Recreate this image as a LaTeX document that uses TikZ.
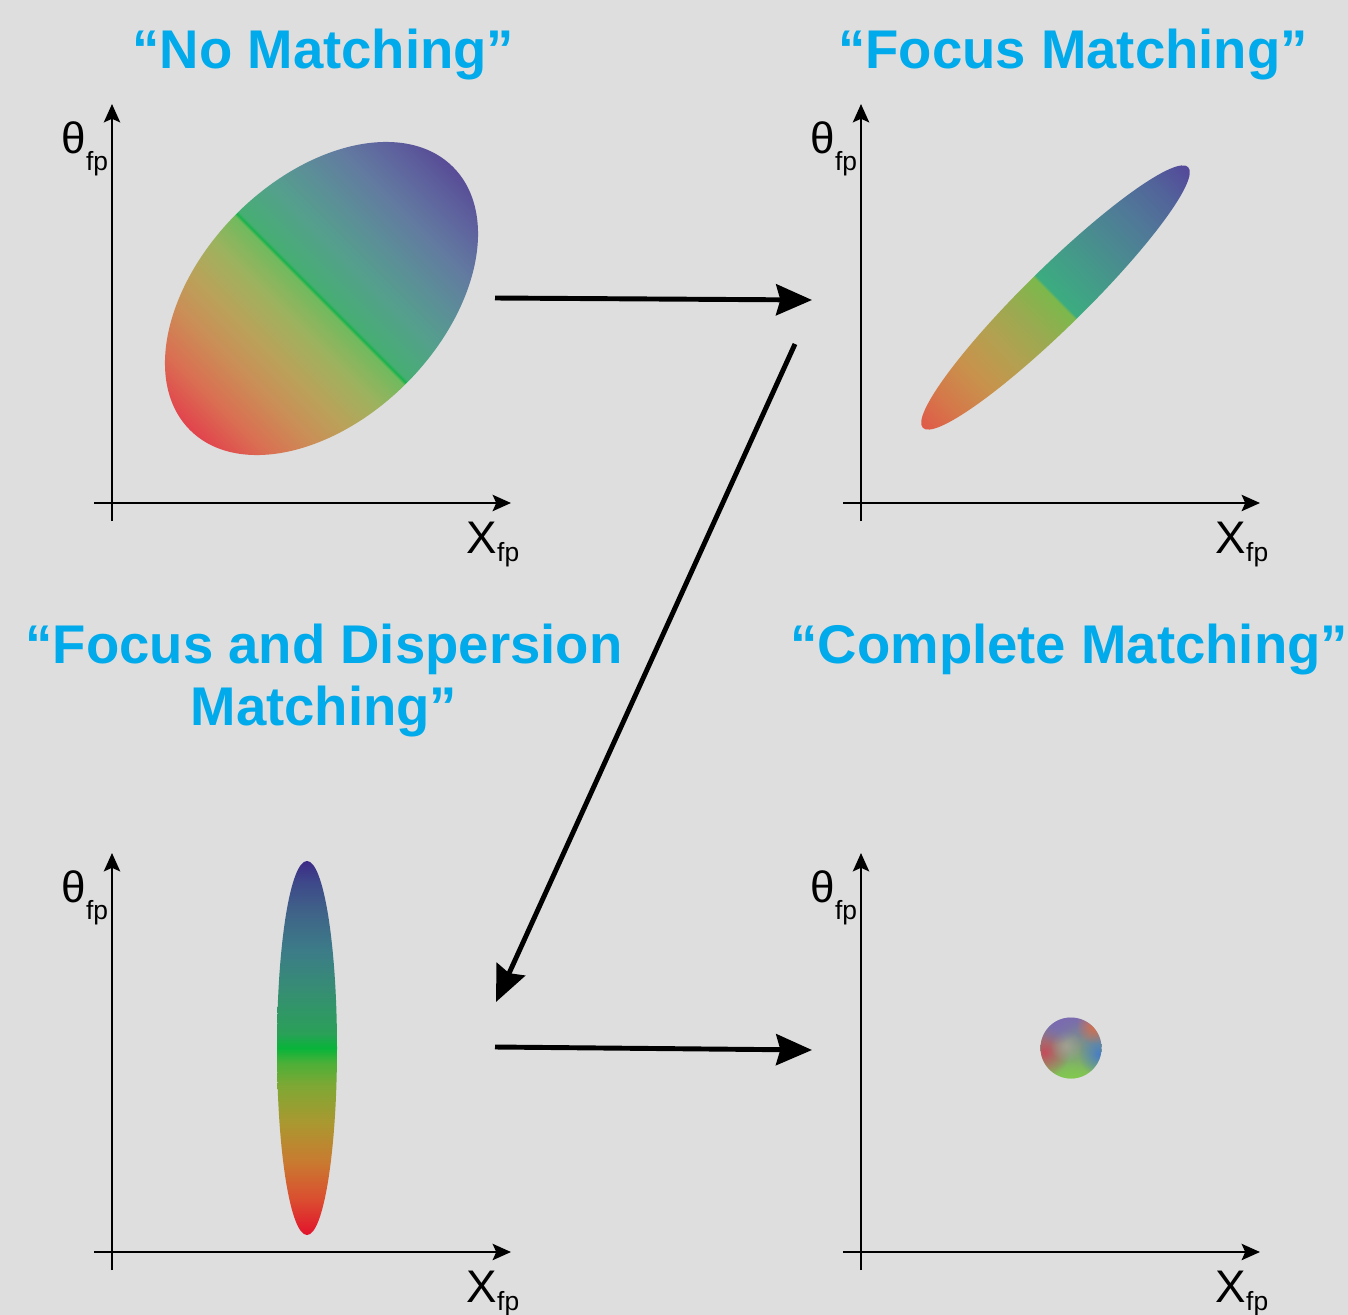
\documentclass[tikz,border=0pt]{standalone}
\usepackage{fontspec}
\setmainfont{Liberation Sans}
\usetikzlibrary{
	positioning,
	arrows.meta,
	fadings
}
\definecolor{PanelGray}{RGB}{222,222,222}
\definecolor{TitleCyan}{RGB}{0,170,235}
% no matching
\definecolor{NmA}{RGB}{226,67,77}
\definecolor{NmB}{RGB}{218,110,82}
\definecolor{NmC}{RGB}{204,140,86}
\definecolor{NmD}{RGB}{186,162,90}
\definecolor{NmE}{RGB}{158,178,94}
\definecolor{NmF}{RGB}{112,186,94}
\definecolor{NmG}{RGB}{26,178,76}
\definecolor{NmH}{RGB}{70,174,114}
\definecolor{NmI}{RGB}{84,160,140}
\definecolor{NmJ}{RGB}{92,142,152}
\definecolor{NmK}{RGB}{98,122,160}
\definecolor{NmL}{RGB}{94,98,158}
\definecolor{NmM}{RGB}{88,76,150}
% focus matching
\definecolor{FmA}{RGB}{224,90,72}
\definecolor{FmB}{RGB}{212,122,74}
\definecolor{FmC}{RGB}{200,146,76}
\definecolor{FmD}{RGB}{180,160,80}
\definecolor{FmE}{RGB}{154,170,80}
\definecolor{FmF}{RGB}{124,184,76}
\definecolor{FmG}{RGB}{60,172,128}
\definecolor{FmH}{RGB}{67,156,136}
\definecolor{FmI}{RGB}{74,138,144}
\definecolor{FmJ}{RGB}{80,120,152}
\definecolor{FmK}{RGB}{82,100,154}
\definecolor{FmL}{RGB}{84,72,154}
% focus and dispersion matching
\definecolor{FdA}{RGB}{226,19,44}
\definecolor{FdB}{RGB}{218,80,48}
\definecolor{FdC}{RGB}{200,124,48}
\definecolor{FdD}{RGB}{170,152,48}
\definecolor{FdE}{RGB}{126,168,52}
\definecolor{FdF}{RGB}{76,176,56}
\definecolor{FdG}{RGB}{8,180,58}
\definecolor{FdH}{RGB}{42,160,88}
\definecolor{FdI}{RGB}{53,144,112}
\definecolor{FdJ}{RGB}{60,124,136}
\definecolor{FdK}{RGB}{63,100,136}
\definecolor{FdL}{RGB}{62,74,138}
\definecolor{FdM}{RGB}{60,42,134}
% complete matching
\definecolor{CmPurple}{RGB}{122,106,176}
\definecolor{CmGreen}{RGB}{130,200,80}
\definecolor{CmRed}{RGB}{196,76,92}
\definecolor{CmBlue}{RGB}{70,124,200}
\definecolor{CmOrange}{RGB}{216,112,72}
\definecolor{CmGrey}{RGB}{168,166,150}

\pgfdeclarehorizontalshading{NoMatchShade}{100bp}{
	color(0bp)=(NmA); color(25bp)=(NmA); color(30bp)=(NmB);
	color(35bp)=(NmC); color(40bp)=(NmD); color(45bp)=(NmE);
	color(49.6bp)=(NmF); color(50bp)=(NmG); color(50.4bp)=(NmH);
	color(56bp)=(NmI); color(61bp)=(NmJ); color(66bp)=(NmK);
	color(71bp)=(NmL); color(75bp)=(NmM); color(100bp)=(NmM)}
\pgfdeclarehorizontalshading{FocusShade}{100bp}{
	color(0bp)=(FmA); color(25bp)=(FmA); color(30bp)=(FmB);
	color(35bp)=(FmC); color(40bp)=(FmD); color(45bp)=(FmE);
	color(49.8bp)=(FmF); color(50.2bp)=(FmG); color(55bp)=(FmH);
	color(60bp)=(FmI); color(65bp)=(FmJ); color(70bp)=(FmK);
	color(75bp)=(FmL); color(100bp)=(FmL)}
\pgfdeclarehorizontalshading{DispersionShade}{100bp}{
	color(0bp)=(FdA); color(25bp)=(FdA); color(30bp)=(FdB);
	color(35bp)=(FdC); color(40bp)=(FdD); color(45bp)=(FdE);
	color(48bp)=(FdF); color(50bp)=(FdG); color(52bp)=(FdH);
	color(57bp)=(FdI); color(63bp)=(FdJ); color(68bp)=(FdK);
	color(72bp)=(FdL); color(75bp)=(FdM); color(100bp)=(FdM)}
\tikzfading[name=softblob, inner color=transparent!0, outer color=transparent!100]

\newcommand{\fpsub}[1]{\raisebox{#1}{\fontsize{7.5}{8}\selectfont fp}}

\begin{document}
\begin{tikzpicture}[
	x=0.01cm,
	y=-0.01cm,
	title/.style={
		text=TitleCyan,
		font=\fontsize{15.5}{17.6}\selectfont\bfseries,
		inner sep=0pt
	},
	thetalabel/.style={
		font=\fontsize{12.5}{14}\selectfont,
		inner sep=0pt,
		anchor=base west
	},
	xlabel/.style={
		font=\fontsize{13}{15}\selectfont,
		inner sep=0pt,
		anchor=base west
	},
	axisline/.style={
		line width=0.75pt,
		-{Stealth[length=5.2pt, width=4.6pt, inset=1pt]}
	},
	bigarrow/.style={
		line width=1.4pt,
		-{Stealth[length=10.2pt, width=8.8pt, inset=1.2pt]}
	}
	]
	
	\fill[PanelGray] (0,0) rectangle (1348,1315);
	\useasboundingbox (0,0) rectangle (1348,1315);
	
	% titles
	\node[title, anchor=base] (nmTitle) at (323.5,68) {“No Matching”};
	\node[title, anchor=base] (fmTitle) at (1073,68) {“Focus Matching”};
	\node[title, anchor=base, align=center] (fdmTitle) at (324,725) {“Focus and Dispersion\\Matching”};
	\node[title, anchor=base west] (cmTitle) at (790,663) {“Complete Matching”};
	
	% axes
	\coordinate (nmYb) at (112,521);
	\coordinate (nmYt) at (112,104);
	\coordinate (nmXl) at (94,503);
	\coordinate (nmXr) at (511,503);
	\coordinate (fmYb) at (861,521);
	\coordinate (fmYt) at (861,104);
	\coordinate (fmXl) at (843,503);
	\coordinate (fmXr) at (1260,503);
	\coordinate (fdmYb) at (112,1270);
	\coordinate (fdmYt) at (112,853);
	\coordinate (fdmXl) at (94,1252);
	\coordinate (fdmXr) at (511,1252);
	\coordinate (cmYb) at (861,1270);
	\coordinate (cmYt) at (861,853);
	\coordinate (cmXl) at (843,1252);
	\coordinate (cmXr) at (1260,1252);
	
	\draw[axisline] (nmYb) -- (nmYt);
	\draw[axisline] (nmXl) -- (nmXr);
	\draw[axisline] (fmYb) -- (fmYt);
	\draw[axisline] (fmXl) -- (fmXr);
	\draw[axisline] (fdmYb) -- (fdmYt);
	\draw[axisline] (fdmXl) -- (fdmXr);
	\draw[axisline] (cmYb) -- (cmYt);
	\draw[axisline] (cmXl) -- (cmXr);
	
	\node[thetalabel] (nmTheta) at (61,153) {θ\fpsub{-5pt}};
	\node[xlabel] (nmX) at (466,553) {X\fpsub{-2.5pt}};
	\node[thetalabel] (fmTheta) at (810,153) {θ\fpsub{-5pt}};
	\node[xlabel] (fmX) at (1215,553) {X\fpsub{-2.5pt}};
	\node[thetalabel] (fdmTheta) at (61,902) {θ\fpsub{-5pt}};
	\node[xlabel] (fdmX) at (466,1302) {X\fpsub{-2.5pt}};
	\node[thetalabel] (cmTheta) at (810,902) {θ\fpsub{-5pt}};
	\node[xlabel] (cmX) at (1215,1302) {X\fpsub{-2.5pt}};
	
	% beam ellipses
	\begin{scope}[transform canvas={shift={(321.5,298.5)}, rotate=45}]
		\shade[shading=NoMatchShade] (0,0) ellipse [x radius=186, y radius=120];
	\end{scope}
	\begin{scope}[transform canvas={shift={(1055.5,297.5)}, rotate=44.5}]
		\shade[shading=FocusShade] (0,0) ellipse [x radius=186, y radius=30];
	\end{scope}
	\begin{scope}[transform canvas={shift={(307,1048)}, rotate=90}]
		\shade[shading=DispersionShade] (0,0) ellipse [x radius=187, y radius=30];
	\end{scope}
	\begin{scope}
		\clip (1071,1048) circle [radius=30.5];
		\shade[top color=CmPurple, bottom color=CmGreen] (1040,1017) rectangle (1102,1079);
		\fill[CmRed, path fading=softblob] (1044,1052) circle [radius=26];
		\fill[CmBlue, path fading=softblob] (1100,1054) circle [radius=22];
		\fill[CmOrange, path fading=softblob] (1094,1026) circle [radius=18];
		\fill[CmGreen, path fading=softblob] (1072,1082) circle [radius=22];
		\fill[CmGrey, path fading=softblob, opacity=0.8] (1066,1046) circle [radius=16];
		\fill[CmPurple, path fading=softblob] (1056,1022) circle [radius=22];
	\end{scope}
	
	% arrows between panels
	\coordinate (nmOut) at (495,298);
	\coordinate (fmIn) at (812,300);
	\coordinate (fmOut) at (795,344);
	\coordinate (fdmIn) at (496,1002);
	\coordinate (fdmOut) at (495,1047);
	\coordinate (cmIn) at (812,1050);
	
	\draw[bigarrow] (nmOut) -- (fmIn);
	\draw[bigarrow] (fmOut) -- (fdmIn);
	\draw[bigarrow] (fdmOut) -- (cmIn);
	
\end{tikzpicture}
\end{document}
